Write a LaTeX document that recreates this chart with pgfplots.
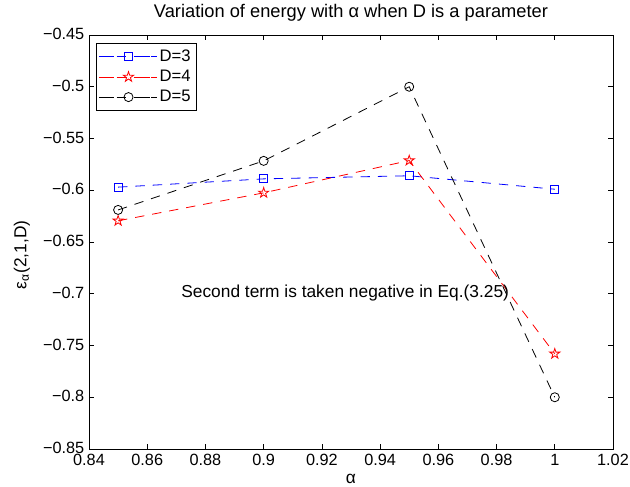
\documentclass[border=0pt]{standalone}
\usepackage{pgfplots}
\pgfplotsset{compat=1.18}
\usepackage{fontspec}
\setmainfont{Liberation Sans}
\usetikzlibrary{plotmarks}
\pgfdeclareplotmark{pentagram}{%
  \pgfpathmoveto{\pgfpointpolar{90}{\pgfplotmarksize}}%
  \pgfpathlineto{\pgfpointpolar{126}{0.382\pgfplotmarksize}}%
  \pgfpathlineto{\pgfpointpolar{162}{\pgfplotmarksize}}%
  \pgfpathlineto{\pgfpointpolar{198}{0.382\pgfplotmarksize}}%
  \pgfpathlineto{\pgfpointpolar{234}{\pgfplotmarksize}}%
  \pgfpathlineto{\pgfpointpolar{270}{0.382\pgfplotmarksize}}%
  \pgfpathlineto{\pgfpointpolar{306}{\pgfplotmarksize}}%
  \pgfpathlineto{\pgfpointpolar{342}{0.382\pgfplotmarksize}}%
  \pgfpathlineto{\pgfpointpolar{18}{\pgfplotmarksize}}%
  \pgfpathlineto{\pgfpointpolar{54}{0.382\pgfplotmarksize}}%
  \pgfpathclose
  \pgfusepathqstroke
}
\definecolor{mblue}{RGB}{0,0,255}
\definecolor{mred}{RGB}{255,0,0}
\begin{document}
\begin{tikzpicture}
\path[use as bounding box] (-66.75pt,-27.75pt) rectangle (405.75pt,336.75pt);
\begin{axis}[
  at={(0,0)}, anchor=south west,
  scale only axis,
  width=393pt, height=310.5pt,
  xmin=0.84, xmax=1.02, ymin=-0.85, ymax=-0.45,
  xtick={0.84,0.86,...,1.03},
  xticklabels={0.84,0.86,0.88,0.9,0.92,0.94,0.96,0.98,1,1.02},
  ytick={-0.85,-0.8,-0.75,-0.7,-0.65,-0.6,-0.55,-0.5,-0.45},
  yticklabels={−0.85,−0.8,−0.75,−0.7,−0.65,−0.6,−0.55,−0.5,−0.45},
  tick align=inside,
  major tick length=3.75pt,
  tick style={black, line width=0.5pt},
  axis line style={line width=0.6pt},
  font=\fontsize{12}{14}\selectfont,
  ticklabel style={font=\fontsize{12.2}{14}\selectfont},
  xticklabel style={yshift=-0.3pt},
  yticklabel style={yshift=0.8pt},
  title={Variation of energy with α when D is a parameter},
  title style={at={(axis description cs:0.5,1)}, anchor=base, yshift=6.75pt, font=\fontsize{13.7}{16}\selectfont},
  xlabel={α},
  xlabel style={at={(axis description cs:0.5,0)}, anchor=base, yshift=-25.5pt, font=\fontsize{13}{15}\selectfont},
  ylabel={ε\textsubscript{α}(2,1,D)},
  ylabel style={at={(axis description cs:-0.128,0.469)}, anchor=center, font=\fontsize{13}{15}\selectfont},
  legend style={at={(rel axis cs:0.0128,0.981)}, anchor=north west, draw=black, line width=0.6pt,
    font=\fontsize{12.5}{14}\selectfont, row sep=1pt, inner xsep=2pt, inner ysep=3pt},
  legend cell align=left,
  legend image code/.code={\path (0pt,0pt) -- (43pt,0pt);
    \draw[#1] (6pt,0pt) -- (11pt,0pt);
    \draw[#1] (33pt,0pt) -- (38pt,0pt);
    \draw[#1] plot coordinates {(22pt,0pt)};},
  every axis plot/.append style={line width=0.6pt, dash pattern=on 7pt off 6pt},
]
\addplot[color=mblue, mark=square, mark size=3pt, mark options={solid}] coordinates {
  (0.85,-0.597) (0.90,-0.589) (0.95,-0.586) (1.00,-0.599)};
\addlegendentry{D=3}
\addplot[color=mred, mark=pentagram, mark size=4pt, mark options={solid}] coordinates {
  (0.85,-0.6295) (0.90,-0.6025) (0.95,-0.5713) (1.00,-0.758)};
\addlegendentry{D=4}
\addplot[color=black, mark=o, mark size=3.4pt, mark options={solid}] coordinates {
  (0.85,-0.619) (0.90,-0.5716) (0.95,-0.500) (1.00,-0.800)};
\addlegendentry{D=5}
\node[font=\fontsize{13}{15}\selectfont] at (axis cs:0.928,-0.699) {Second term is taken negative in Eq.(3.25)};
\end{axis}
\end{tikzpicture}
\end{document}
